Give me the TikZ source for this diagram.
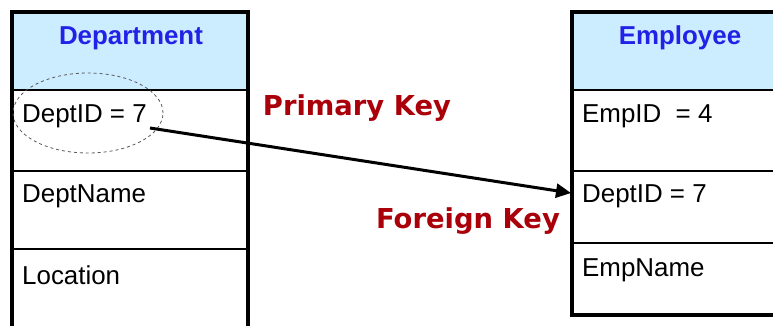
\documentclass[tikz,border=0pt]{standalone}
\usepackage{fontspec}
\setmainfont{Liberation Sans}
\newfontfamily\keyfont{DejaVu Sans}
\usetikzlibrary{arrows.meta,shapes.geometric}
\definecolor{hdrfill}{RGB}{204,236,255}
\definecolor{hdrtext}{RGB}{34,34,230}
\definecolor{keyred}{RGB}{170,0,10}
\tikzset{
  tablebox/.style={draw=black, line width=4bp},
  rowline/.style={draw=black, line width=2bp},
  hdr/.style={font=\fontsize{26}{28}\selectfont\bfseries, text=hdrtext, inner sep=0pt},
  field/.style={font=\fontsize{26}{28}\selectfont, anchor=west, inner sep=0pt},
  keylabel/.style={font=\keyfont\fontsize{27.5}{30}\selectfont\bfseries, text=keyred, inner sep=0pt},
  fkarrow/.style={line width=3bp, -{Triangle[length=15bp,width=14bp]}},
}
\begin{document}
\begin{tikzpicture}[x=1bp,y=-1bp]
\clip (0,0) rectangle (773,325);
\fill[white] (0,0) rectangle (773,325);
% Department table
\fill[hdrfill] (12,12) rectangle (248,90);
\draw[rowline] (12,90) -- (248,90);
\draw[rowline] (12,171) -- (248,171);
\draw[rowline] (12,249) -- (248,249);
\draw[tablebox] (12,345) -- (12,12) -- (248,12) -- (248,345);
% Employee table
\fill[hdrfill] (572,12) rectangle (790,90);
\draw[rowline] (572,90) -- (790,90);
\draw[rowline] (572,171) -- (790,171);
\draw[rowline] (572,243) -- (790,243);
\draw[tablebox] (790,12) -- (572,12) -- (572,315) -- (790,315);
% headers
\node[hdr] (dept) at (131,38) {Department};
\node[hdr] (emp) at (680,38) {Employee};
% fields
\node[field] (dpk) at (22,116) {DeptID = 7};
\node[field] (dname) at (22,196) {DeptName};
\node[field] (dloc) at (22,275) {Location};
\node[field] (eid) at (582,116) {EmpID\ \ = 4};
\node[field] (efk) at (582,196) {DeptID = 7};
\node[field] (ename) at (582,270) {EmpName};
% ellipse around primary key
\node[ellipse, draw=gray!70!black, dashed, line width=0.8bp, minimum width=150bp, minimum height=80bp, inner sep=0pt] (pkring) at (88,113) {};
% key labels
\node[keylabel] (pklabel) at (357,108) {Primary Key};
\node[keylabel] (fklabel) at (468,221) {Foreign Key};
% arrow
\coordinate (pkend) at (150,128);
\coordinate (fkend) at (571,193);
\draw[fkarrow] (pkend) -- (fkend);
\end{tikzpicture}
\end{document}
